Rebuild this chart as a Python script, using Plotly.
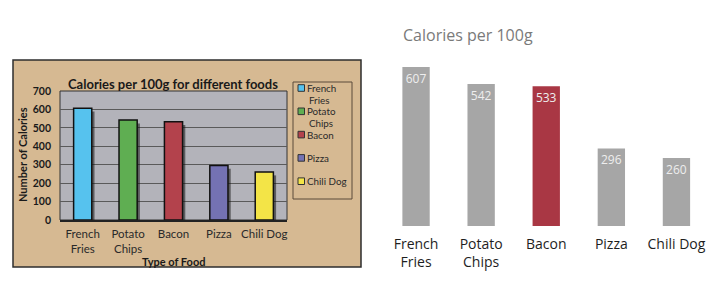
import plotly.graph_objects as go

# ---- data ----
foods = ["French Fries", "Potato Chips", "Bacon", "Pizza", "Chili Dog"]
tick_labels = ["French<br>Fries", "Potato<br>Chips", "Bacon", "Pizza", "Chili Dog"]
legend_lines = [["French", "Fries"], ["Potato", "Chips"], ["Bacon"], ["Pizza"], ["Chili Dog"]]
calories = [607, 542, 533, 296, 260]
left_colors = ["#56c2ee", "#5fae52", "#b3424c", "#7472b3", "#f3e447"]
right_colors = ["#a6a6a6", "#a6a6a6", "#a93744", "#a6a6a6", "#a6a6a6"]
y_ticks = [0, 100, 200, 300, 400, 500, 600, 700]

W, H = 720, 289
def px(x):
    return x / W
def py(y):
    return 1 - y / H

fig = go.Figure()

# ---- left (cluttered) chart ----
# shadow
fig.add_trace(go.Bar(
    x=foods, y=calories, base=[-18] * len(foods), offset=-0.14, width=0.4,
    marker=dict(color="rgba(20,20,20,0.55)", line=dict(width=0)),
    xaxis="x", yaxis="y", showlegend=False, hoverinfo="skip"))
fig.add_trace(go.Bar(
    x=foods, y=calories, width=0.4,
    marker=dict(color=left_colors, line=dict(color="#111111", width=1.5)),
    xaxis="x", yaxis="y", showlegend=False))

# ---- right (clean) chart ----
fig.add_trace(go.Bar(
    x=foods, y=calories, width=0.42,
    marker=dict(color=right_colors, line=dict(width=0)),
    text=[str(v) for v in calories], textposition="inside",
    insidetextanchor="end", textangle=0,
    textfont=dict(family="Open Sans", size=12, color="#eeeeee"),
    xaxis="x2", yaxis="y2", showlegend=False))

tan = "#d6b992"
shapes = [
    # outer tan frame
    dict(type="rect", xref="paper", yref="paper",
         x0=px(13), x1=px(361), y0=py(267), y1=py(60),
         fillcolor=tan, line=dict(color="#2e2e2e", width=1.5), layer="below"),
    # gray plot area
    dict(type="rect", xref="x domain", yref="y domain",
         x0=0, x1=1, y0=0, y1=1,
         fillcolor="#b3b3ba", line=dict(color="#333", width=1), layer="below"),
    # legend box
    dict(type="rect", xref="paper", yref="paper",
         x0=px(293), x1=px(352), y0=py(199), y1=py(82),
         fillcolor=tan, line=dict(color="#5a4a3a", width=1), layer="below"),
]
annotations = [
    dict(text="<b>Calories per 100g for different foods</b>", xref="paper", yref="paper",
         x=px(173), y=py(84), xanchor="center", yanchor="middle", showarrow=False,
         font=dict(family="Lato", size=13, color="#1a1a1a")),
    dict(text="<b>Number of Calories</b>", xref="paper", yref="paper",
         x=px(22), y=py(155), xanchor="center", yanchor="middle", showarrow=False,
         textangle=-90, font=dict(family="Lato", size=11, color="#1a1a1a")),
    dict(text="<b>Type of Food</b>", xref="paper", yref="paper",
         x=px(173), y=py(261), xanchor="center", yanchor="middle", showarrow=False,
         font=dict(family="Lato", size=11, color="#1a1a1a")),
    dict(text="Calories per 100g", xref="paper", yref="paper",
         x=px(401), y=py(35), xanchor="left", yanchor="middle", showarrow=False,
         font=dict(family="Open Sans", size=16, color="#7a7a7a")),
]
# legend entries of the left chart
for i, (lines, c) in enumerate(zip(legend_lines, left_colors)):
    yc = 88 + i * 23.3
    shapes.append(dict(type="rect", xref="paper", yref="paper",
                       x0=px(298), x1=px(304.5), y0=py(yc + 3.3), y1=py(yc - 3.3),
                       fillcolor=c, line=dict(color="#333", width=1)))
    for j, line in enumerate(lines):
        annotations.append(dict(text=line, xref="paper", yref="paper",
                                x=px(306 + 2 * j), y=py(yc + 11.6 * j),
                                xanchor="left", yanchor="middle", showarrow=False,
                                borderpad=0,
                                font=dict(family="Lato", size=9.8, color="#2a2a2a")))

fig.update_layout(
    width=W, height=H, margin=dict(l=0, r=0, t=0, b=0),
    paper_bgcolor="white", plot_bgcolor="rgba(0,0,0,0)",
    barmode="overlay", showlegend=False,
    xaxis=dict(domain=[px(60), px(287)], type="category",
               categoryarray=foods, tickvals=foods, ticktext=tick_labels,
               tickfont=dict(family="Lato", size=11.5, color="#2a2a2a"),
               ticklabelstandoff=2,
               showline=True, linecolor="#222", linewidth=1.5,
               ticks="", showgrid=False, automargin=False, fixedrange=True),
    yaxis=dict(domain=[py(220), py(91)], range=[0, 700], tickvals=y_ticks,
               tickfont=dict(family="Lato", size=10.5, color="#1a1a1a", weight="bold"),
               ticklabelstandoff=8,
               showgrid=True, gridcolor="#5a5a5a", gridwidth=1,
               zeroline=False, showline=False, ticks="",
               automargin=False, fixedrange=True),
    xaxis2=dict(domain=[px(383.5), px(709)], type="category",
                categoryarray=foods, tickvals=foods, ticktext=tick_labels,
                tickfont=dict(family="Open Sans", size=14, color="#1e1e1e"),
                ticklabelstandoff=14,
                showline=False, ticks="", showgrid=False, automargin=False,
                fixedrange=True),
    yaxis2=dict(domain=[py(226), py(42.6)], range=[0, 700], visible=False,
                showgrid=False, zeroline=False, anchor="x2", fixedrange=True),
    shapes=shapes,
    annotations=annotations,
)

fig.write_html("out.html")
